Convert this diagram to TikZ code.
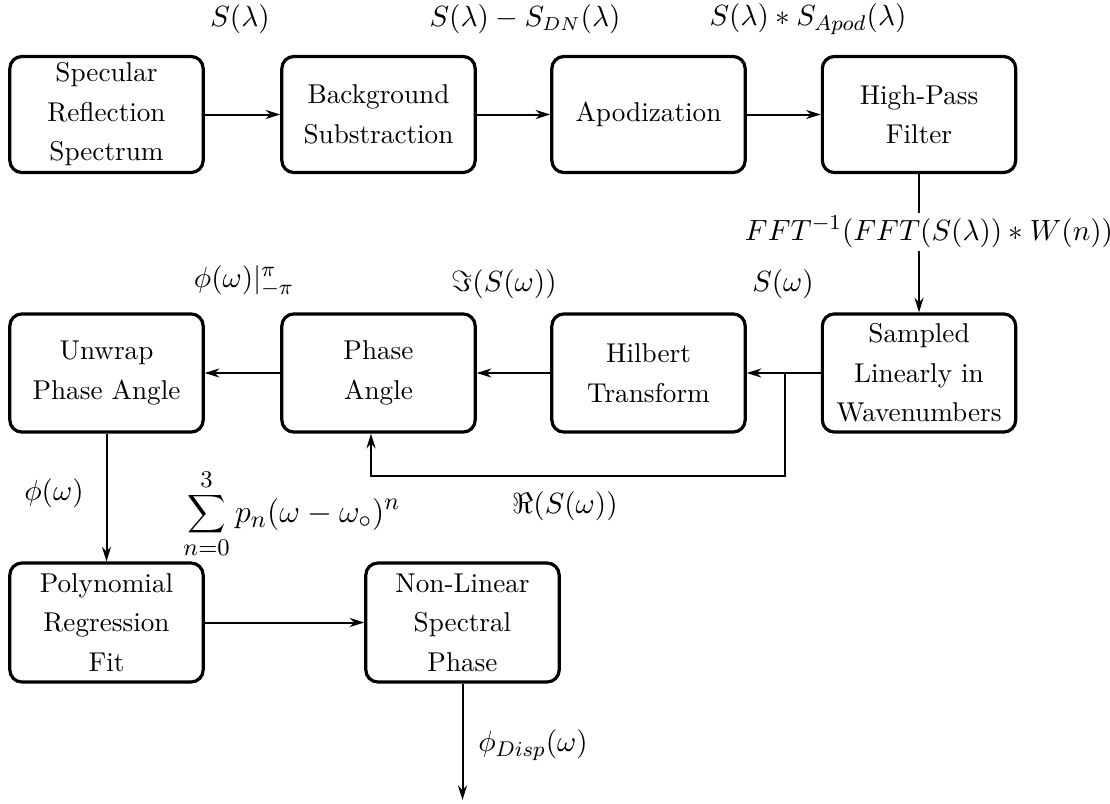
\documentclass[tikz,border=0pt]{standalone}
\usetikzlibrary{arrows.meta}
\begin{document}
\begin{tikzpicture}[x=0.375pt,y=-0.375pt,
  stage/.style={draw,line width=1.2pt,rounded corners=4.5pt,minimum width=72.5pt,minimum height=43.5pt,align=center,inner sep=2pt,font=\fontsize{10.2}{14.8}\selectfont},
  flow/.style={line width=0.75pt,-{Stealth[length=5.5pt,width=3.4pt,inset=1.8pt]}},
  link/.style={line width=0.75pt},
  lbl/.style={inner sep=1pt,font=\fontsize{10.9}{13}\selectfont}]
\useasboundingbox (0,0) rectangle (1110,803);
% first row
\node[stage] (spec) at (106.5,114.5) {Specular\\Reflection\\Spectrum};
\node[stage] (bg) at (378.5,114.5) {Background\\Substraction};
\node[stage] (apo) at (648.5,114.5) {Apodization};
\node[stage] (hp) at (919,114.5) {High-Pass\\Filter};
% second row
\node[stage,minimum height=44.3pt] (unw) at (106.5,373) {Unwrap\\Phase Angle};
\node[stage,minimum height=44.3pt] (pha) at (378.5,373) {Phase\\Angle};
\node[stage,minimum height=44.3pt] (hil) at (648.5,373) {Hilbert\\Transform};
\node[stage,minimum height=44.3pt] (smp) at (919,373) {Sampled\\Linearly in\\Wavenumbers};
% third row
\node[stage,minimum height=44.6pt] (poly) at (106.5,622.5) {Polynomial\\Regression\\Fit};
\node[stage,minimum height=44.6pt] (nls) at (462.5,622.5) {Non-Linear\\Spectral\\Phase};
% labels
\node[lbl] (l1) at (240,19) {$S(\lambda)$};
\node[lbl,font=\fontsize{10.6}{13}\selectfont] (l2) at (525,19) {$S(\lambda)-S_{DN}(\lambda)$};
\node[lbl] (l3) at (808,19) {$S(\lambda)\ast S_{Apod}(\lambda)$};
\node[lbl,font=\fontsize{11}{13}\selectfont] (lfft) at (929,232) {$FFT^{-1}(FFT(S(\lambda))\ast W(n))$};
\node[lbl] (l4) at (244,281) {$\phi(\omega)|_{-\pi}^{\pi}$};
\node[lbl] (l5) at (504,284) {$\Im(S(\omega))$};
\node[lbl] (l6) at (783,284) {$S(\omega)$};
\node[lbl] (l7) at (565,506) {$\Re(S(\omega))$};
\node[lbl] (l8) at (54,493) {$\phi(\omega)$};
\node[lbl,font=\fontsize{12.6}{15}\selectfont] (l9) at (292,514) {$\displaystyle\sum_{n=0}^{3}p_n(\omega-\omega_\circ)^n$};
\node[lbl] (l10) at (533,745) {$\phi_{Disp}(\omega)$};
% connectors
\coordinate (out) at (462.5,800);
\coordinate (tap) at (785,373);
\draw[flow] (spec) -- (bg);
\draw[flow] (bg) -- (apo);
\draw[flow] (apo) -- (hp);
\draw[link] (hp.south) -- (hp.south |- lfft.north);
\draw[flow] (hp.south |- lfft.south) -- (smp.north);
\draw[flow] (smp) -- (hil);
\draw[flow] (tap) -- (tap |- 0,476) -| (pha.south -| 371,0);
\draw[flow] (hil) -- (pha);
\draw[flow] (pha) -- (unw);
\draw[flow] (unw) -- (poly);
\draw[flow] (poly) -- (nls);
\draw[flow] (nls) -- (out);
\end{tikzpicture}
\end{document}
